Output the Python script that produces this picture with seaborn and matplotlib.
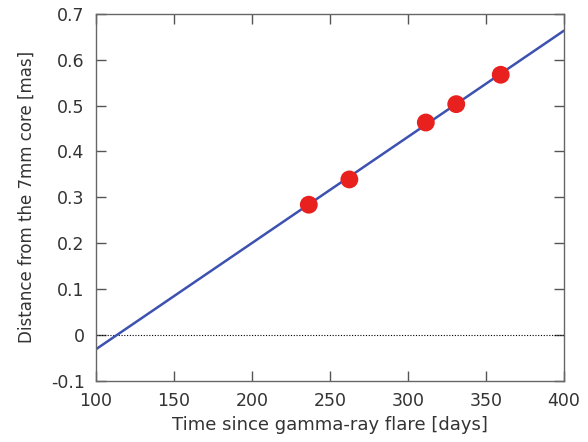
import matplotlib
matplotlib.use("Agg")
import matplotlib.pyplot as plt
import seaborn as sns
import pandas as pd

# Data
time_days = [236.5, 262.5, 311.5, 331.0, 359.5]
distance_mas = [0.284, 0.339, 0.463, 0.503, 0.567]
fit_x = [100, 400]
fit_y = [-0.031, 0.663]
zero_x = [100, 400]
zero_y = [0, 0]
xticks = [100, 150, 200, 250, 300, 350, 400]
yticks = [-0.1, 0, 0.1, 0.2, 0.3, 0.4, 0.5, 0.6, 0.7]
ytick_labels = ["-0.1", "0", "0.1", "0.2", "0.3", "0.4", "0.5", "0.6", "0.7"]

sns.set_theme(style="white")
plt.rcParams['font.family'] = ['DejaVu Sans']

fig = plt.figure(figsize=(5.88, 4.42), dpi=100)
ax = fig.add_axes([0.163, 0.138, 0.796, 0.831])

pts = pd.DataFrame({"t": time_days, "d": distance_mas})
fit = pd.DataFrame({"t": fit_x, "d": fit_y})
zero = pd.DataFrame({"t": zero_x, "d": zero_y})

sns.lineplot(data=zero, x="t", y="d", ax=ax, color="black", lw=0.8,
             linestyle=(0, (1, 1.5)))
sns.lineplot(data=fit, x="t", y="d", ax=ax, color="#3d52b0", lw=1.8)
sns.scatterplot(data=pts, x="t", y="d", ax=ax, color="#e8201e", s=165,
                edgecolor="none", zorder=5)

ax.set_xlim(100, 400)
ax.set_ylim(-0.1, 0.7)
ax.set_xticks(xticks)
ax.set_xticklabels([str(v) for v in xticks])
ax.set_yticks(yticks)
ax.set_yticklabels(ytick_labels)
ax.tick_params(direction="in", length=7, width=1, colors="#555555",
               labelcolor="#333333", labelsize=12.5, top=True, right=True,
               bottom=True, left=True, pad=8)
for sp in ax.spines.values():
    sp.set_color("#666666")
    sp.set_linewidth(1.0)
ax.set_xlabel("Time since gamma-ray flare [days]", fontsize=13, color="#333333",
              labelpad=4)
ax.set_ylabel("Distance from the 7mm core [mas]", fontsize=12, color="#333333",
              labelpad=11)

fig.savefig("out.png", dpi=100)
